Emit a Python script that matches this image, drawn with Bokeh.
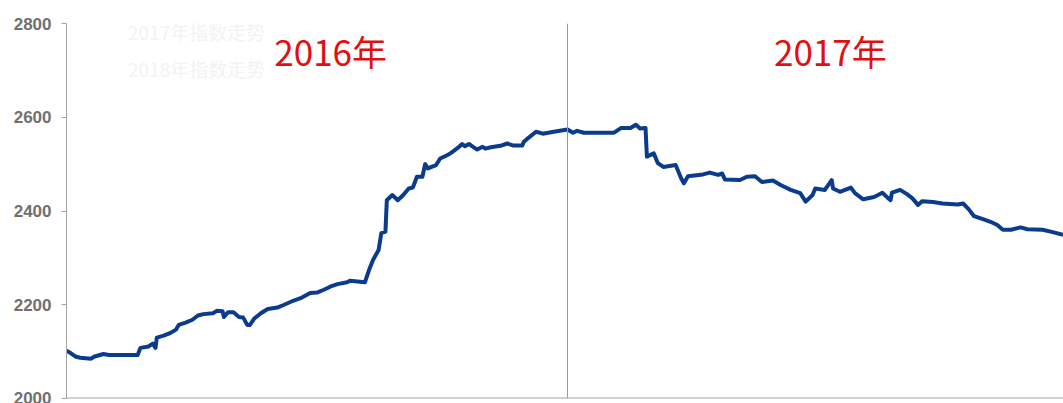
from datetime import datetime
import pandas as pd
from bokeh.plotting import figure
from bokeh.models import ColumnDataSource, Span, Label, Legend, LegendItem, Range1d
from bokeh.embed import file_html
from bokeh.resources import INLINE

# ---- data ----
dates = [
    "2016-01-01", "2016-01-04", "2016-01-08", "2016-01-11", "2016-01-19", "2016-01-21",
    "2016-01-28", "2016-02-01", "2016-02-22", "2016-02-24", "2016-03-01", "2016-03-04",
    "2016-03-06", "2016-03-07", "2016-03-12", "2016-03-17", "2016-03-21", "2016-03-23",
    "2016-03-28", "2016-04-02", "2016-04-06", "2016-04-10", "2016-04-17", "2016-04-20",
    "2016-04-24", "2016-04-25", "2016-04-28", "2016-05-02", "2016-05-06", "2016-05-09",
    "2016-05-12", "2016-05-14", "2016-05-17", "2016-05-22", "2016-05-27", "2016-06-03",
    "2016-06-08", "2016-06-15", "2016-06-20", "2016-06-27", "2016-07-02", "2016-07-07",
    "2016-07-12", "2016-07-17", "2016-07-24", "2016-07-26", "2016-08-06", "2016-08-09",
    "2016-08-12", "2016-08-16", "2016-08-18", "2016-08-21", "2016-08-22", "2016-08-26",
    "2016-08-30", "2016-09-03", "2016-09-07", "2016-09-10", "2016-09-13", "2016-09-17",
    "2016-09-19", "2016-09-21", "2016-09-27", "2016-09-30", "2016-10-05", "2016-10-08",
    "2016-10-13", "2016-10-16", "2016-10-18", "2016-10-21", "2016-10-24", "2016-10-27",
    "2016-10-31", "2016-11-02", "2016-11-06", "2016-11-13", "2016-11-18", "2016-11-22",
    "2016-11-29", "2016-11-30", "2016-12-03", "2016-12-09", "2016-12-14", "2016-12-22",
    "2017-01-01", "2017-01-05", "2017-01-08", "2017-01-13", "2017-02-04", "2017-02-09",
    "2017-02-16", "2017-02-20", "2017-02-23", "2017-02-27", "2017-02-28", "2017-03-05",
    "2017-03-08", "2017-03-12", "2017-03-21", "2017-03-25", "2017-03-27", "2017-03-30",
    "2017-04-10", "2017-04-15", "2017-04-21", "2017-04-24", "2017-04-26", "2017-05-07",
    "2017-05-12", "2017-05-18", "2017-05-23", "2017-05-31", "2017-06-06", "2017-06-13",
    "2017-06-20", "2017-06-24", "2017-06-29", "2017-07-01", "2017-07-08", "2017-07-13",
    "2017-07-14", "2017-07-19", "2017-07-27", "2017-07-30", "2017-08-05", "2017-08-13",
    "2017-08-19", "2017-08-23", "2017-08-25", "2017-08-26", "2017-09-01", "2017-09-06",
    "2017-09-10", "2017-09-14", "2017-09-17", "2017-09-25", "2017-10-02", "2017-10-13",
    "2017-10-17", "2017-10-21", "2017-10-25", "2017-11-01", "2017-11-06", "2017-11-11",
    "2017-11-15", "2017-11-21", "2017-11-28", "2017-12-03", "2017-12-14", "2017-12-20",
    "2017-12-29",
]
values = [
    2102, 2097, 2089, 2087, 2085, 2089,
    2095, 2093, 2093, 2108, 2111, 2117,
    2108, 2130, 2134, 2140, 2147, 2157,
    2162, 2168, 2177, 2180, 2182, 2187,
    2186, 2174, 2184, 2184, 2174, 2173,
    2157, 2157, 2170, 2182, 2191, 2194,
    2200, 2209, 2214, 2225, 2226, 2232,
    2239, 2244, 2248, 2251, 2248, 2274,
    2296, 2317, 2353, 2356, 2423, 2434,
    2423, 2434, 2448, 2450, 2473, 2473,
    2500, 2491, 2498, 2512, 2519, 2524,
    2535, 2543, 2538, 2543, 2537, 2531,
    2537, 2533, 2536, 2539, 2544, 2540,
    2540, 2547, 2555, 2569, 2565, 2569,
    2574, 2567, 2571, 2567, 2567, 2577,
    2577, 2584, 2576, 2577, 2516, 2523,
    2502, 2494, 2498, 2470, 2459, 2474,
    2478, 2482, 2477, 2480, 2467, 2466,
    2473, 2474, 2462, 2465, 2455, 2445,
    2438, 2420, 2434, 2448, 2445, 2466,
    2448, 2441, 2450, 2438, 2425, 2430,
    2439, 2428, 2423, 2439, 2445, 2436,
    2427, 2413, 2421, 2419, 2416, 2414,
    2416, 2404, 2389, 2382, 2377, 2370,
    2360, 2360, 2365, 2361, 2360, 2356,
    2349,
]
year_labels = ["2016年", "2017年"]
legend_labels = ["2017年指数走势", "2018年指数走势"]
y_ticks = [2000, 2200, 2400, 2600, 2800]


def ms(d):
    return (d - datetime(1970, 1, 1)).total_seconds() * 1000.0


src = ColumnDataSource(dict(x=pd.to_datetime(dates), y=values))

p = figure(
    width=1063, height=403,
    x_axis_type="datetime",
    x_range=Range1d(start=datetime(2016, 1, 1), end=datetime(2017, 12, 29, 8)),
    y_range=Range1d(start=y_ticks[0], end=y_ticks[-1]),
    output_backend="svg", toolbar_location=None,
    min_border_left=66, min_border_right=0, min_border_top=23, min_border_bottom=5,
)
p.outline_line_color = None
p.xgrid.visible = False
p.ygrid.visible = False
p.xaxis.visible = False
p.background_fill_color = "white"
p.border_fill_color = "white"

ax = p.yaxis[0]
ax.ticker = y_ticks
ax.axis_line_color = "#a3a3a3"
ax.major_tick_line_color = "#a3a3a3"
ax.major_tick_out = 5
ax.major_tick_in = 0
ax.minor_tick_out = 0
ax.minor_tick_in = 0
ax.major_label_standoff = 10
ax.major_label_text_font = "Liberation Sans"
ax.major_label_text_font_style = "bold"
ax.major_label_text_font_size = "17px"
ax.major_label_text_color = "#707070"

# bottom baseline and year divider
p.add_layout(Span(location=y_ticks[0], dimension="width", line_color="#a3a3a3", line_width=2))
p.add_layout(Span(location=ms(datetime(2017, 1, 1)), dimension="height",
                  line_color="#9a9a9a", line_width=1))

p.line("x", "y", source=src, line_color="#0b3b8c", line_width=4, line_join="round")

# faint legend (nearly invisible in the reference)
r1 = p.line(x=[], y=[], line_color="#d3dae8", line_width=2)
r2 = p.line(x=[], y=[], line_color="#f2ecdc", line_width=2)
legend = Legend(
    items=[LegendItem(label=legend_labels[0], renderers=[r1]),
           LegendItem(label=legend_labels[1], renderers=[r2])],
    location=(26, 316), orientation="vertical",
    label_text_font="Noto Sans CJK SC", label_text_font_size="19px",
    label_text_color="#f3f3f3",
    glyph_width=33, glyph_height=20, label_height=20, label_standoff=3,
    spacing=10, padding=0, margin=0,
    border_line_color=None, background_fill_alpha=0,
)
p.add_layout(legend)

# year titles
for lbl, d in zip(year_labels, [datetime(2016, 7, 12), datetime(2017, 7, 12)]):
    p.add_layout(Label(x=ms(d), y=2743, text=lbl, text_align="center",
                       text_baseline="alphabetic", text_font="Noto Sans CJK SC",
                       text_font_size="35px", text_color="#e01010"))

open("out.html", "w").write(file_html(p, INLINE))
